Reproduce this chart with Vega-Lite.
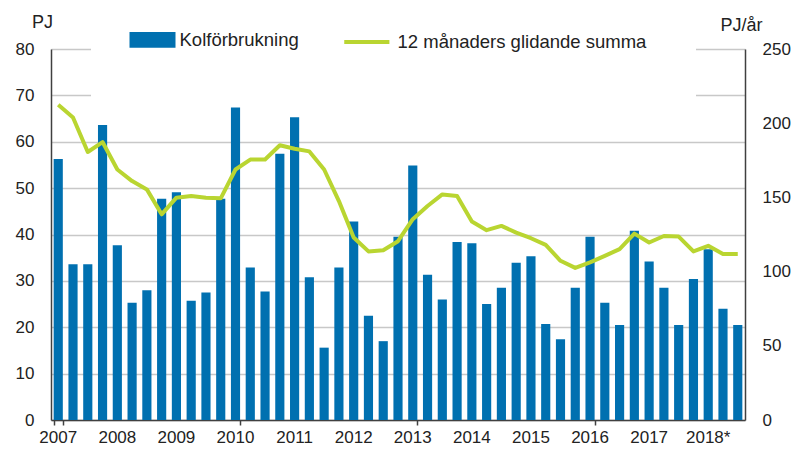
{
  "$schema": "https://vega.github.io/schema/vega-lite/v6.json",
  "width": 694,
  "height": 371,
  "autosize": {"type": "none"},
  "padding": {"left": 51, "top": 49, "right": 51, "bottom": 30},
  "background": "white",
  "config": {
    "view": {"stroke": null},
    "font": "Liberation Sans",
    "axis": {"labelFont": "Liberation Sans", "titleFont": "Liberation Sans", "labelFontSize": 17, "titleFontSize": 18, "labelColor": "#222222", "titleColor": "#222222", "titleFontWeight": "normal"}
  },
  "data": {"values": [
    {"kvartal": "2007K1", "kol": 56.3, "summa": 212.4},
    {"kvartal": "2007K2", "kol": 33.6, "summa": 203.9},
    {"kvartal": "2007K3", "kol": 33.6, "summa": 180.6},
    {"kvartal": "2007K4", "kol": 63.6, "summa": 187.3},
    {"kvartal": "2008K1", "kol": 37.7, "summa": 168.8},
    {"kvartal": "2008K2", "kol": 25.3, "summa": 161.0},
    {"kvartal": "2008K3", "kol": 28.0, "summa": 155.4},
    {"kvartal": "2008K4", "kol": 47.7, "summa": 138.6},
    {"kvartal": "2009K1", "kol": 49.1, "summa": 149.8},
    {"kvartal": "2009K2", "kol": 25.7, "summa": 150.9},
    {"kvartal": "2009K3", "kol": 27.5, "summa": 149.8},
    {"kvartal": "2009K4", "kol": 47.7, "summa": 149.4},
    {"kvartal": "2010K1", "kol": 67.4, "summa": 168.8},
    {"kvartal": "2010K2", "kol": 32.9, "summa": 175.5},
    {"kvartal": "2010K3", "kol": 27.7, "summa": 175.5},
    {"kvartal": "2010K4", "kol": 57.4, "summa": 185.1},
    {"kvartal": "2011K1", "kol": 65.3, "summa": 182.8},
    {"kvartal": "2011K2", "kol": 30.8, "summa": 181.0},
    {"kvartal": "2011K3", "kol": 15.6, "summa": 168.8},
    {"kvartal": "2011K4", "kol": 32.9, "summa": 147.5},
    {"kvartal": "2012K1", "kol": 42.8, "summa": 123.0},
    {"kvartal": "2012K2", "kol": 22.5, "summa": 113.6},
    {"kvartal": "2012K3", "kol": 17.0, "summa": 114.4},
    {"kvartal": "2012K4", "kol": 39.5, "summa": 120.5},
    {"kvartal": "2013K1", "kol": 54.9, "summa": 135.3},
    {"kvartal": "2013K2", "kol": 31.3, "summa": 144.2},
    {"kvartal": "2013K3", "kol": 26.0, "summa": 152.0},
    {"kvartal": "2013K4", "kol": 38.4, "summa": 150.9},
    {"kvartal": "2014K1", "kol": 38.1, "summa": 133.7},
    {"kvartal": "2014K2", "kol": 25.0, "summa": 127.9},
    {"kvartal": "2014K3", "kol": 28.5, "summa": 130.8},
    {"kvartal": "2014K4", "kol": 33.9, "summa": 126.3},
    {"kvartal": "2015K1", "kol": 35.3, "summa": 122.5},
    {"kvartal": "2015K2", "kol": 20.7, "summa": 118.0},
    {"kvartal": "2015K3", "kol": 17.4, "summa": 107.3},
    {"kvartal": "2015K4", "kol": 28.5, "summa": 102.5},
    {"kvartal": "2016K1", "kol": 39.5, "summa": 106.2},
    {"kvartal": "2016K2", "kol": 25.3, "summa": 110.6},
    {"kvartal": "2016K3", "kol": 20.5, "summa": 115.1},
    {"kvartal": "2016K4", "kol": 40.8, "summa": 125.6},
    {"kvartal": "2017K1", "kol": 34.2, "summa": 119.6},
    {"kvartal": "2017K2", "kol": 28.5, "summa": 124.0},
    {"kvartal": "2017K3", "kol": 20.5, "summa": 123.6},
    {"kvartal": "2017K4", "kol": 30.4, "summa": 113.6},
    {"kvartal": "2018K1", "kol": 36.8, "summa": 117.4},
    {"kvartal": "2018K2", "kol": 24.0, "summa": 111.8},
    {"kvartal": "2018K3", "kol": 20.5, "summa": 111.8}
  ]},
  "encoding": {
    "x": {"field": "kvartal", "type": "ordinal", "sort": null,
      "scale": {"paddingInner": 0.38, "paddingOuter": 0.18}}
  },
  "layer": [
    {
      "mark": {"type": "bar"},
      "encoding": {
        "x": {"field": "kvartal", "type": "ordinal", "sort": null, "title": null,
          "axis": {"orient": "bottom", "values": ["2007K1", "2010K1", "2013K1", "2016K1"], "tickBand": "extent", "labels": false, "grid": false, "ticks": true, "tickSize": 5, "tickColor": "#404040", "tickWidth": 1.5, "domainColor": "#404040", "domainWidth": 1.5}},
        "y": {"field": "kol", "type": "quantitative", "title": "PJ",
          "scale": {"domain": [0, 80], "nice": false},
          "axis": {"values": [0, 10, 20, 30, 40, 50, 60, 70, 80], "ticks": false, "labelPadding": 17, "domainColor": "#404040", "domainWidth": 1.5,
            "gridColor": "#c8c8c8", "gridWidth": 1.5,
            "titleAngle": 0, "titleAlign": "center", "titleBaseline": "alphabetic", "titleX": -9, "titleY": -22}},
        "color": {"datum": "Kolförbrukning", "type": "nominal",
          "scale": {"domain": ["Kolförbrukning", "12 månaders glidande summa"], "range": ["#0070b0", "#b9d531"]},
          "legend": {"orient": "none", "legendX": 40, "legendY": -71, "direction": "horizontal", "title": null,
            "symbolSize": 441, "symbolStrokeWidth": 4, "labelFont": "Liberation Sans", "labelFontSize": 18.5, "labelColor": "#222222", "labelLimit": 400,
            "labelOffset": 14.5, "columnPadding": 37, "fillColor": "white", "padding": 49,
            "encode": {"symbols": {"update": {
              "shape": {"signal": "datum.value === 'Kolförbrukning' ? 'M-2,-0.56H2V0.56H-2Z' : 'M-2.5,0H1.8'"},
              "fill": {"signal": "datum.value === 'Kolförbrukning' ? '#0070b0' : 'transparent'"},
              "stroke": {"signal": "datum.value === 'Kolförbrukning' ? 'transparent' : '#b9d531'"},
              "strokeWidth": {"value": 4}}}}}}
      }
    },
    {
      "mark": {"type": "line", "strokeWidth": 4, "strokeJoin": "round"},
      "encoding": {
        "x": {"field": "kvartal", "type": "ordinal", "sort": null, "title": null,
          "axis": {"orient": "bottom", "ticks": false, "domain": false, "grid": false, "labelAngle": 0, "labelOverlap": false, "labelPadding": 9,
            "labelExpr": "slice(datum.value, 4) === 'K1' ? (slice(datum.value, 0, 4) === '2018' ? '2018*' : slice(datum.value, 0, 4)) : ''"}},
        "y": {"field": "summa", "type": "quantitative", "title": "PJ/år",
          "scale": {"domain": [0, 250], "nice": false},
          "axis": {"orient": "right", "values": [0, 50, 100, 150, 200, 250], "ticks": false, "grid": false, "labelPadding": 17, "domainColor": "#404040", "domainWidth": 1.5,
            "titleAngle": 0, "titleAlign": "center", "titleBaseline": "alphabetic", "titleX": -4, "titleY": -19}},
        "color": {"datum": "12 månaders glidande summa", "type": "nominal"}
      }
    }
  ],
  "resolve": {"scale": {"y": "independent"}, "axis": {"x": "independent"}}
}
